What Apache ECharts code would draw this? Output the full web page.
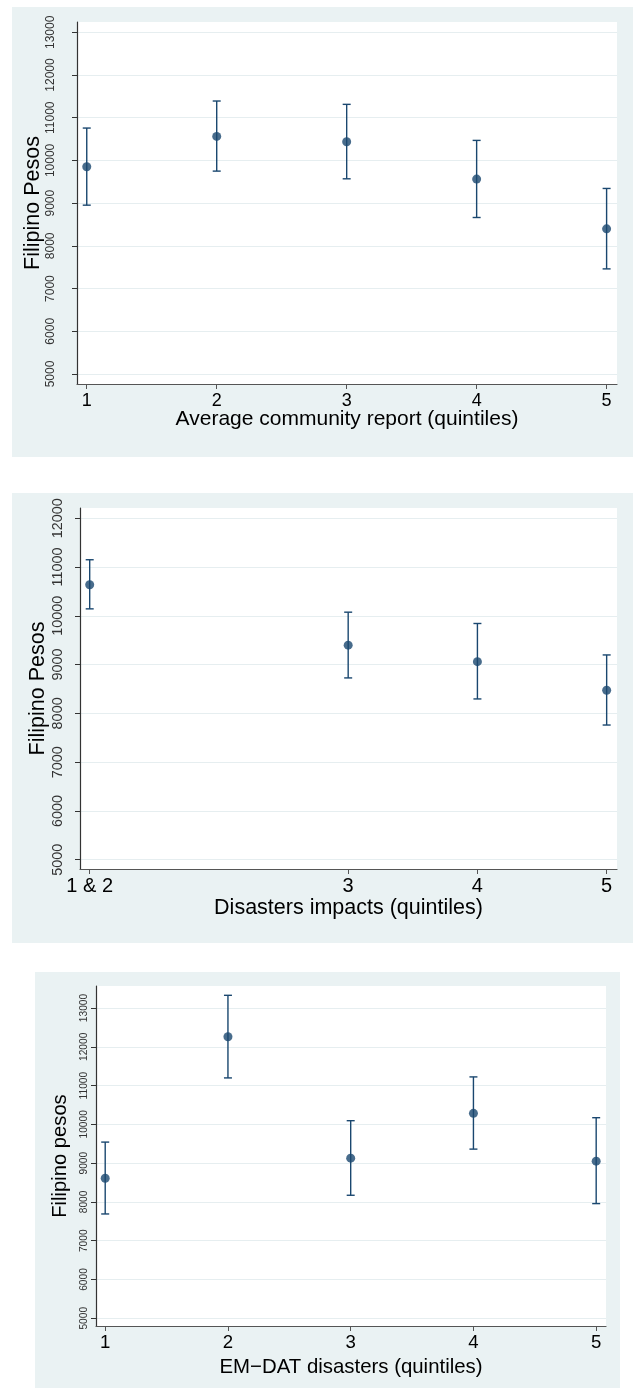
<!DOCTYPE html>
<html>
<head>
<meta charset="utf-8">
<title>Filipino Pesos by quintile</title>
<script src="https://cdn.jsdelivr.net/npm/echarts@6/dist/echarts.min.js"></script>
<style>
  html, body { margin: 0; padding: 0; background: #ffffff; }
  #chart { width: 633px; height: 1391px; }
</style>
</head>
<body>
<div id="chart"></div>
<script>
// ---- Panel 1: average community report (quintiles) ----
const communityX = [1, 2, 3, 4, 5];
const communityLabels = ['1', '2', '3', '4', '5'];
const communityMean = [9852, 10563, 10438, 9563, 8398];
const communityLow = [8953, 9750, 9570, 8664, 7461];
const communityHigh = [10758, 11391, 11313, 10469, 9344];
const communityYTicks = [5000, 6000, 7000, 8000, 9000, 10000, 11000, 12000, 13000];

// ---- Panel 2: disasters impacts (quintiles 1 & 2 pooled) ----
const impactX = [1, 3, 4, 5];
const impactLabels = ['1 & 2', '3', '4', '5'];
const impactMean = [10638, 9399, 9061, 8474];
const impactLow = [10143, 8727, 8296, 7761];
const impactHigh = [11150, 10075, 9843, 9198];
const impactYTicks = [5000, 6000, 7000, 8000, 9000, 10000, 11000, 12000];

// ---- Panel 3: EM-DAT disasters (quintiles) ----
const emdatX = [1, 2, 3, 4, 5];
const emdatLabels = ['1', '2', '3', '4', '5'];
const emdatMean = [8612, 12259, 9129, 10284, 9052];
const emdatLow = [7690, 11198, 8172, 9362, 7957];
const emdatHigh = [9543, 13328, 10095, 11224, 10172];
const emdatYTicks = [5000, 6000, 7000, 8000, 9000, 10000, 11000, 12000, 13000];

const FONT = '"Liberation Sans", Arial, Helvetica, sans-serif';
const NAVY = '#1a476f';
const BG = '#eaf2f3';
const GRIDLINE = '#e6eef0';

const panels = [
  {
    x: communityX, labels: communityLabels, mean: communityMean, low: communityLow, high: communityHigh,
    yTicks: communityYTicks, yRange: [4766, 13241],
    grid: { left: 77, top: 22, width: 540, height: 362 },
    xName: 'Average community report (quintiles)', yName: 'Filipino Pesos',
    xLabelSize: 18, xLabelMargin: 8, xNameSize: 21, xNameGap: 25,
    yLabelSize: 12, yLabelMargin: 20, yNameSize: 21.5, yNameGap: 33
  },
  {
    x: impactX, labels: impactLabels, mean: impactMean, low: impactLow, high: impactHigh,
    yTicks: impactYTicks, yRange: [4809, 12211],
    grid: { left: 80, top: 508, width: 537, height: 361 },
    xName: 'Disasters impacts (quintiles)', yName: 'Filipino Pesos',
    xLabelSize: 20, xLabelMargin: 7, xNameSize: 21.5, xNameGap: 28,
    yLabelSize: 14.4, yLabelMargin: 15, yNameSize: 21.5, yNameGap: 31
  },
  {
    x: emdatX, labels: emdatLabels, mean: emdatMean, low: emdatLow, high: emdatHigh,
    yTicks: emdatYTicks, yRange: [4801, 13568],
    grid: { left: 96, top: 986, width: 510, height: 340 },
    xName: 'EM\u2212DAT disasters (quintiles)', yName: 'Filipino pesos',
    xLabelSize: 18.6, xLabelMargin: 7, xNameSize: 20.4, xNameGap: 31,
    yLabelSize: 10.2, yLabelMargin: 7, yNameSize: 20.2, yNameGap: 26
  }
];

const grids = [], xAxes = [], yAxes = [], series = [];

panels.forEach((p, i) => {
  grids.push(Object.assign({
    show: true, backgroundColor: '#ffffff', borderWidth: 0, containLabel: false
  }, p.grid));

  xAxes.push({
    type: 'value', gridIndex: i, min: 0.925, max: 5.08,
    name: p.xName, nameLocation: 'middle', nameGap: p.xNameGap, nameMoveOverlap: false,
    nameTextStyle: { fontFamily: FONT, fontSize: p.xNameSize, color: '#000' },
    axisLine: { show: true, onZero: false, lineStyle: { color: '#555', width: 1.2 } },
    axisTick: { show: true, length: 5, customValues: p.x, lineStyle: { color: '#555', width: 1 } },
    axisLabel: {
      customValues: p.x, margin: p.xLabelMargin, fontFamily: FONT, fontSize: p.xLabelSize, color: '#000',
      formatter: v => p.labels[p.x.indexOf(v)]
    },
    splitLine: { show: false }
  });

  yAxes.push({
    type: 'value', gridIndex: i, min: p.yRange[0], max: p.yRange[1],
    name: p.yName, nameLocation: 'middle', nameGap: p.yNameGap, nameMoveOverlap: false,
    nameTextStyle: { fontFamily: FONT, fontSize: p.yNameSize, color: '#000' },
    axisLine: { show: true, lineStyle: { color: '#333', width: 1.2 } },
    axisTick: { show: true, length: 5, customValues: p.yTicks, lineStyle: { color: '#333', width: 1 } },
    axisLabel: {
      customValues: p.yTicks, rotate: 90, margin: p.yLabelMargin,
      fontFamily: FONT, fontSize: p.yLabelSize, color: '#333',
      formatter: v => String(v)
    },
    splitLine: { show: true, lineStyle: { color: GRIDLINE, width: 1.2 } }
  });

  // confidence interval caps
  series.push({
    type: 'custom', xAxisIndex: i, yAxisIndex: i, silent: true,
    data: p.x.map((xv, k) => [xv, p.low[k], p.high[k]]),
    encode: { x: 0, y: [1, 2] },
    renderItem: (params, api) => {
      const lo = api.coord([api.value(0), api.value(1)]);
      const hi = api.coord([api.value(0), api.value(2)]);
      const half = 4;
      const style = { stroke: NAVY, lineWidth: 1.4, fill: null };
      return {
        type: 'group',
        children: [
          { type: 'line', shape: { x1: lo[0], y1: lo[1], x2: hi[0], y2: hi[1] }, style },
          { type: 'line', shape: { x1: lo[0] - half, y1: lo[1], x2: lo[0] + half, y2: lo[1] }, style },
          { type: 'line', shape: { x1: hi[0] - half, y1: hi[1], x2: hi[0] + half, y2: hi[1] }, style }
        ]
      };
    },
    z: 2
  });

  // group means
  series.push({
    type: 'scatter', xAxisIndex: i, yAxisIndex: i, silent: true,
    data: p.x.map((xv, k) => [xv, p.mean[k]]),
    symbol: 'circle', symbolSize: 9,
    itemStyle: { color: NAVY },
    z: 3
  });
});

const chart = echarts.init(document.getElementById('chart'), null, { renderer: 'canvas' });
chart.setOption({
  animation: false,
  backgroundColor: '#ffffff',
  graphic: [
    { type: 'rect', z: -10, silent: true, shape: { x: 12, y: 7, width: 621, height: 450 }, style: { fill: BG } },
    { type: 'rect', z: -10, silent: true, shape: { x: 12, y: 493, width: 621, height: 450 }, style: { fill: BG } },
    { type: 'rect', z: -10, silent: true, shape: { x: 35, y: 972, width: 585, height: 416 }, style: { fill: BG } }
  ],
  grid: grids,
  xAxis: xAxes,
  yAxis: yAxes,
  series: series
});
</script>
</body>
</html>
